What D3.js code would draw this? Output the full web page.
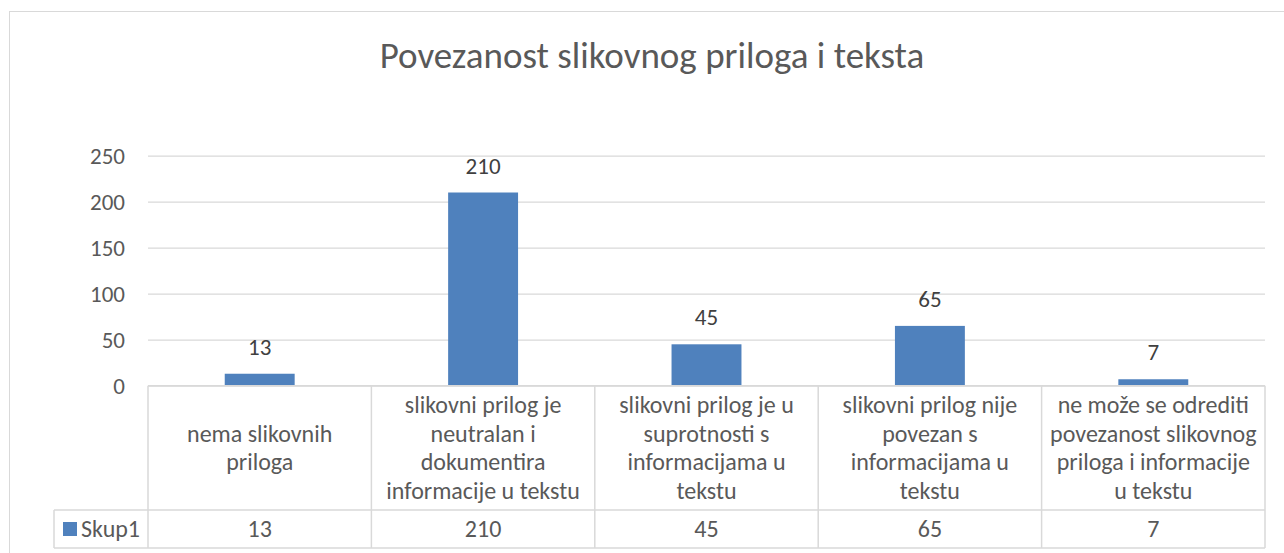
<!DOCTYPE html>
<html>
<head>
<meta charset="utf-8">
<script src="https://cdn.jsdelivr.net/npm/d3@7"></script>
<style>
    body { margin: 0; background: #fff; }
    svg text { font-family: Carlito, Calibri, Lato, sans-serif; }
</style>
</head>
<body>
<div id="chart"></div>
<script>
// Chart data
const title = 'Povezanost slikovnog priloga i teksta';
const categories = [
    'nema slikovnih\npriloga',
    'slikovni prilog je\nneutralan i\ndokumentira\ninformacije u tekstu',
    'slikovni prilog je u\nsuprotnosti s\ninformacijama u\ntekstu',
    'slikovni prilog nije\npovezan s\ninformacijama u\ntekstu',
    'ne može se  odrediti\npovezanost slikovnog\npriloga i informacije\nu tekstu'
];
const seriesName = 'Skup1';
const values = [13, 210, 45, 65, 7];
const yTicks = [0, 50, 100, 150, 200, 250];

const W = 1284, H = 553;
const plot = { left: 148, right: 1265, top: 155.7, bottom: 385.7 };
const table = { legendLeft: 54, catBottom: 510, bottom: 548 };
const gridColor = '#d9d9d9';
const textColor = '#595959';
const fs = 23;      // axis + data labels
const tableFs = 24; // data table text

const svg = d3.select('#chart')
    .append('svg')
    .attr('width', W)
    .attr('height', H);

// Outer chart frame
svg.append('rect')
    .attr('x', 9.5).attr('y', 11.5)
    .attr('width', W + 20).attr('height', H + 20)
    .attr('fill', 'none')
    .attr('stroke', gridColor);

// Title
svg.append('text')
    .attr('x', 652).attr('y', 68)
    .attr('text-anchor', 'middle')
    .attr('font-size', 37)
    .attr('fill', textColor)
    .text(title);

// Scales
const y = d3.scaleLinear().domain([0, 250]).range([plot.bottom, plot.top]);
const cols = d3.scaleBand().domain(categories).range([plot.left, plot.right]);
const x = d3.scaleBand().domain(categories).range([plot.left, plot.right])
    .paddingInner(0.687).paddingOuter(0.3435);

// Gridlines + y labels
const yAxis = svg.append('g')
    .attr('transform', `translate(${plot.left},0)`)
    .call(d3.axisLeft(y).tickValues(yTicks).tickSize(-(plot.right - plot.left)).tickPadding(23));
yAxis.select('.domain').remove();
yAxis.selectAll('.tick line').attr('stroke', gridColor).attr('stroke-width', 1.3);
yAxis.selectAll('.tick text')
    .attr('fill', textColor)
    .attr('font-size', fs)
    .attr('font-family', 'Carlito, Calibri, Lato, sans-serif');

// Bars
svg.selectAll('.bar')
    .data(values)
    .enter()
    .append('rect')
    .attr('class', 'bar')
    .attr('x', (d, i) => x(categories[i]))
    .attr('y', d => y(d))
    .attr('width', x.bandwidth())
    .attr('height', d => y(0) - y(d))
    .attr('fill', '#4f81bd');

// Data labels
svg.selectAll('.label')
    .data(values)
    .enter()
    .append('text')
    .attr('class', 'label')
    .attr('x', (d, i) => x(categories[i]) + x.bandwidth() / 2)
    .attr('y', d => y(d) - 19)
    .attr('text-anchor', 'middle')
    .attr('font-size', fs)
    .attr('fill', '#404040')
    .text(d => d);

// Data table
const tg = svg.append('g')
    .attr('stroke', gridColor)
    .attr('stroke-width', 1.5);

// horizontal lines
tg.append('line').attr('x1', plot.left).attr('x2', plot.right).attr('y1', plot.bottom).attr('y2', plot.bottom);
tg.append('line').attr('x1', table.legendLeft).attr('x2', plot.right).attr('y1', table.catBottom).attr('y2', table.catBottom);
tg.append('line').attr('x1', table.legendLeft).attr('x2', plot.right).attr('y1', table.bottom).attr('y2', table.bottom);
// vertical lines
const colEdges = categories.map(c => cols(c)).concat([plot.right]);
tg.selectAll('.vline')
    .data(colEdges)
    .enter()
    .append('line')
    .attr('x1', d => d).attr('x2', d => d)
    .attr('y1', plot.bottom).attr('y2', table.bottom);
tg.append('line')
    .attr('x1', table.legendLeft).attr('x2', table.legendLeft)
    .attr('y1', table.catBottom).attr('y2', table.bottom);

// category labels
const lineH = 28.5;
const catMid = (plot.bottom + table.catBottom) / 2;
svg.selectAll('.cat')
    .data(categories)
    .enter()
    .append('text')
    .attr('class', 'cat')
    .attr('text-anchor', 'middle')
    .attr('font-size', tableFs)
    .attr('fill', textColor)
    .each(function (c) {
        const lines = c.split('\n');
        const t = d3.select(this);
        const y0 = catMid - (lines.length - 1) * lineH / 2 + 8;
        lines.forEach((l, i) => {
            t.append('tspan')
                .attr('x', cols(c) + cols.bandwidth() / 2)
                .attr('y', y0 + i * lineH)
                .text(l);
        });
    });

// series row
const rowMid = (table.catBottom + table.bottom) / 2;
svg.selectAll('.val')
    .data(values)
    .enter()
    .append('text')
    .attr('class', 'val')
    .attr('x', (d, i) => cols(categories[i]) + cols.bandwidth() / 2)
    .attr('y', rowMid + 8)
    .attr('text-anchor', 'middle')
    .attr('font-size', tableFs)
    .attr('fill', textColor)
    .text(d => d);

// legend key
svg.append('rect')
    .attr('x', 63).attr('y', 522)
    .attr('width', 14).attr('height', 14)
    .attr('fill', '#4f81bd');
svg.append('text')
    .attr('x', 81).attr('y', rowMid + 8)
    .attr('font-size', tableFs)
    .attr('fill', textColor)
    .text(seriesName);
</script>
</body>
</html>
